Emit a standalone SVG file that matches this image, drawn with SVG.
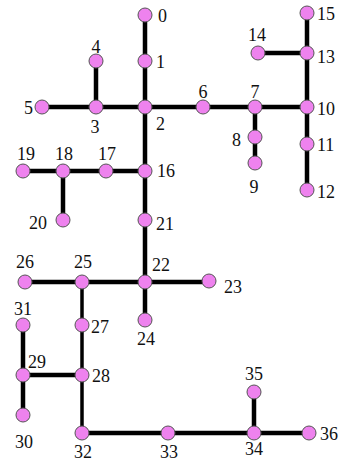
<svg xmlns="http://www.w3.org/2000/svg" width="345" height="461" viewBox="0 0 345 461">
  <style>
    .e { stroke: #000; stroke-width: 4.5; fill: none; stroke-linecap: butt; }
    .t { stroke-width: 3.5; }
    .n circle { fill: #EE82EE; stroke: #555; stroke-width: 1; }
    .n text { font-family: "Liberation Serif", "Times New Roman", serif; font-size: 18px; fill: #111; }
    .m { text-anchor: middle; }
    .r { text-anchor: end; }
  </style>
  <rect width="345" height="461" fill="#fff"/>
  <g id="edges">
    <path class="e" d="M145 15V320"/>
    <path class="e" d="M42 107H307"/>
    <path class="e" d="M96 61V107"/>
    <path class="e" d="M255 107V163"/>
    <path class="e" d="M307 13V190"/>
    <path class="e" d="M258 53H307"/>
    <path class="e" d="M23 171H145"/>
    <path class="e" d="M63 171V220"/>
    <path class="e" d="M25 282H209"/>
    <path class="e t" d="M82 282V433"/>
    <path class="e" d="M23 325V415"/>
    <path class="e" d="M23 375H82"/>
    <path class="e" d="M82 433H309"/>
    <path class="e" d="M254 392V433"/>
  </g>
  <g id="n0" class="n"><circle cx="145" cy="15" r="7"/><text x="158" y="22">0</text></g>
  <g id="n1" class="n"><circle cx="145" cy="61" r="7"/><text x="156" y="68">1</text></g>
  <g id="n2" class="n"><circle cx="145" cy="107" r="7"/><text x="156" y="130">2</text></g>
  <g id="n3" class="n"><circle cx="96" cy="107" r="7"/><text class="m" x="95" y="133">3</text></g>
  <g id="n4" class="n"><circle cx="96" cy="61" r="7"/><text class="m" x="96" y="53">4</text></g>
  <g id="n5" class="n"><circle cx="42" cy="107" r="7"/><text class="r" x="33" y="114">5</text></g>
  <g id="n6" class="n"><circle cx="203" cy="107" r="7"/><text class="m" x="203" y="98">6</text></g>
  <g id="n7" class="n"><circle cx="255" cy="107" r="7"/><text class="m" x="255" y="98">7</text></g>
  <g id="n8" class="n"><circle cx="255" cy="137" r="7"/><text class="r" x="241" y="146">8</text></g>
  <g id="n9" class="n"><circle cx="255" cy="163" r="7"/><text class="m" x="254" y="193">9</text></g>
  <g id="n10" class="n"><circle cx="307" cy="107" r="7"/><text x="317" y="115">10</text></g>
  <g id="n11" class="n"><circle cx="307" cy="144" r="7"/><text x="317" y="151">11</text></g>
  <g id="n12" class="n"><circle cx="307" cy="190" r="7"/><text x="317" y="198">12</text></g>
  <g id="n13" class="n"><circle cx="307" cy="53" r="7"/><text x="317" y="63">13</text></g>
  <g id="n14" class="n"><circle cx="258" cy="53" r="7"/><text class="m" x="257" y="41">14</text></g>
  <g id="n15" class="n"><circle cx="307" cy="13" r="7"/><text x="317" y="20">15</text></g>
  <g id="n16" class="n"><circle cx="145" cy="171" r="7"/><text x="157" y="177">16</text></g>
  <g id="n17" class="n"><circle cx="106" cy="171" r="7"/><text class="m" x="107" y="160">17</text></g>
  <g id="n18" class="n"><circle cx="63" cy="171" r="7"/><text class="m" x="64" y="160">18</text></g>
  <g id="n19" class="n"><circle cx="23" cy="171" r="7"/><text class="m" x="26" y="160">19</text></g>
  <g id="n20" class="n"><circle cx="63" cy="220" r="7"/><text class="r" x="47" y="229">20</text></g>
  <g id="n21" class="n"><circle cx="145" cy="220" r="7"/><text x="156" y="230">21</text></g>
  <g id="n22" class="n"><circle cx="145" cy="282" r="7"/><text x="152" y="271">22</text></g>
  <g id="n23" class="n"><circle cx="209" cy="281" r="7"/><text x="224" y="293">23</text></g>
  <g id="n24" class="n"><circle cx="145" cy="320" r="7"/><text class="m" x="146" y="345">24</text></g>
  <g id="n25" class="n"><circle cx="82" cy="282" r="7"/><text class="m" x="83" y="268">25</text></g>
  <g id="n26" class="n"><circle cx="25" cy="282" r="7"/><text class="m" x="25" y="268">26</text></g>
  <g id="n27" class="n"><circle cx="82" cy="325" r="7"/><text x="91" y="333">27</text></g>
  <g id="n28" class="n"><circle cx="82" cy="375" r="7"/><text x="92" y="382">28</text></g>
  <g id="n29" class="n"><circle cx="23" cy="375" r="7"/><text x="28" y="368">29</text></g>
  <g id="n30" class="n"><circle cx="23" cy="415" r="7"/><text class="m" x="24" y="448">30</text></g>
  <g id="n31" class="n"><circle cx="23" cy="325" r="7"/><text class="m" x="23" y="315">31</text></g>
  <g id="n32" class="n"><circle cx="82" cy="433" r="7"/><text class="m" x="83" y="458">32</text></g>
  <g id="n33" class="n"><circle cx="168" cy="433" r="7"/><text class="m" x="169" y="458">33</text></g>
  <g id="n34" class="n"><circle cx="254" cy="433" r="7"/><text class="m" x="254" y="455">34</text></g>
  <g id="n35" class="n"><circle cx="254" cy="392" r="7"/><text class="m" x="254" y="380">35</text></g>
  <g id="n36" class="n"><circle cx="309" cy="433" r="7"/><text x="320" y="440">36</text></g>
</svg>
